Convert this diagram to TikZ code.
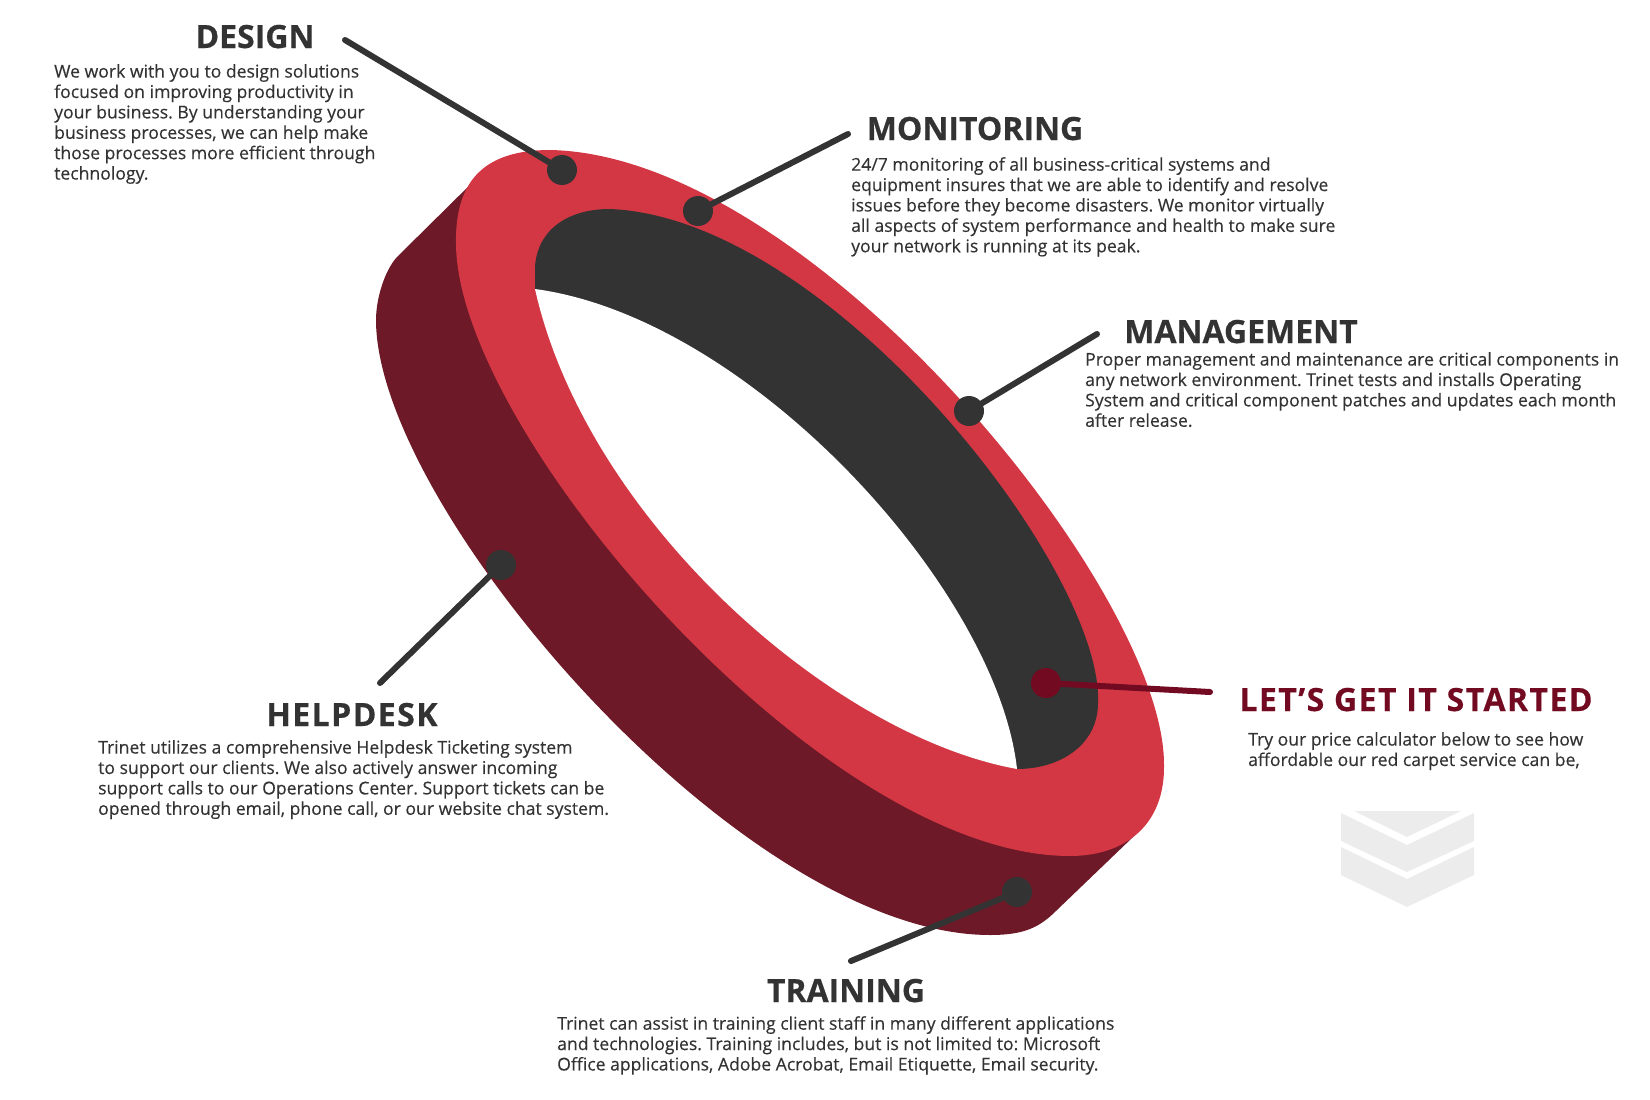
\documentclass[tikz,border=0pt]{standalone}
\usepackage{fontspec}
\setmainfont{Open Sans}[FakeBold=0.3]
\newfontfamily\headfont{Open Sans}[BoldFeatures={FakeBold=0.5}]
\newfontfamily\wideheadfont{Open Sans}[BoldFeatures={FakeBold=0.5},LetterSpace=4.5]
\frenchspacing
\definecolor{ringred}{HTML}{D43744}
\definecolor{ringdark}{HTML}{6D1927}
\definecolor{inkgrey}{HTML}{333333}
\definecolor{startred}{HTML}{720B22}
\definecolor{chevgrey}{HTML}{ECECEC}
\begin{document}
\begin{tikzpicture}[x=1pt,y=-1pt,
     head/.style = {anchor=base,inner sep=0,text=inkgrey,font=\headfont\bfseries\fontsize{32}{32}\selectfont},
     widehead/.style = {head,font=\wideheadfont\bfseries\fontsize{32}{32}\selectfont},
     body/.style = {anchor=north west,inner sep=0,align=left,text=inkgrey,font=\fontsize{17.6}{20.4}\selectfont},
     dot/.style = {circle,fill=inkgrey,minimum size=30pt,inner sep=0},
     lead/.style = {line width=6pt,line cap=round,draw=inkgrey}]
   \useasboundingbox (0,0) rectangle (1650,1100);
   \fill[ringdark] (480,175) -- (397,257) .. controls (385,270) and (376,298) .. (376,320)
       .. controls (376,508) and (742,935) .. (990,935)
       .. controls (1025,935) and (1040,927) .. (1057,910) -- (1133,837) -- cycle;
   \fill[ringred] (550,150) .. controls (810,155) and (1165,590) .. (1164,765)
       .. controls (1165,825) and (1125,856) .. (1070,856)
       .. controls (822,856) and (456,431) .. (456,243)
       .. controls (455,180) and (485,150) .. (550,150) -- cycle;
   \fill[inkgrey] (535,289) -- (535,267) .. controls (537,232) and (565,209) .. (610,209)
       .. controls (830,218) and (1104,570) .. (1098,703)
       .. controls (1098,745) and (1060,769) .. (1017,769) -- cycle;
   \fill[white] (535,289) .. controls (750,318) and (997,589) .. (1017,769)
       .. controls (830,735) and (586,517) .. (535,289) -- cycle;

   \fill[chevgrey] (1354,811) -- (1461,811) -- (1407,837) -- cycle;
   \fill[chevgrey] (1341,813) -- (1407,845) -- (1474,813) -- (1474,841) -- (1407,872) -- (1341,841) -- cycle;
   \fill[chevgrey] (1341,847) -- (1407,879) -- (1474,847) -- (1474,875) -- (1407,907) -- (1341,875) -- cycle;

   \node[dot] (designdot) at (562,170) {};
   \node[dot] (monitordot) at (698,211) {};
   \node[dot] (managedot) at (969,411) {};
   \node[dot] (helpdot) at (501,565) {};
   \node[dot] (traindot) at (1017,892) {};
   \node[dot,fill=startred] (startdot) at (1046,683) {};
   \coordinate (designend) at (345,40);
   \coordinate (monitorend) at (848,134);
   \coordinate (manageend) at (1097,334);
   \coordinate (helpend) at (380,683);
   \coordinate (trainend) at (851,961);
   \coordinate (startend) at (1210,692);
   \draw[lead] (designdot) -- (designend);
   \draw[lead] (monitordot) -- (monitorend);
   \draw[lead] (managedot) -- (manageend);
   \draw[lead] (helpdot) -- (helpend);
   \draw[lead] (traindot) -- (trainend);
   \draw[lead,draw=startred] (startdot) -- (startend);

   \node[head] (design) at (255,48) {DESIGN};
   \node[head] (monitoring) at (975,140) {MONITORING};
   \node[head] (management) at (1241,343) {MANAGEMENT};
   \node[widehead] (helpdesk) at (352,726) {HELPDESK};
   \node[widehead,text=startred] (started) at (1416,711) {LET’S GET IT STARTED};
   \node[head] (training) at (846,1002) {TRAINING};

   \node[body] (designtext) at (54,64) {We work with you to design solutions\\
     focused on improving productivity in\\your business. By understanding your\\
     business processes, we can help make\\those processes more efficient through\\technology.};
   \node[body] (monitoringtext) at (851,157) {24/7 monitoring of all business-critical systems and\\
     equipment insures that we are able to identify and resolve\\
     issues before they become disasters. We monitor virtually\\
     all aspects of system performance and health to make sure\\
     your network is running at its peak.};
   \node[body] (managementtext) at (1085,352) {Proper management and maintenance are critical components in\\
     any network environment. Trinet tests and installs Operating\\
     System and critical component patches and updates each month\\after release.};
   \node[body] (helpdesktext) at (98,740) {Trinet utilizes a comprehensive Helpdesk Ticketing system\\
     to support our clients. We also actively answer incoming\\
     support calls to our Operations Center. Support tickets can be\\
     opened through email, phone call, or our website chat system.};
   \node[body] (startedtext) at (1248,732) {Try our price calculator below to see how\\
     affordable our red carpet service can be,};
   \node[body] (trainingtext) at (557,1016) {Trinet can assist in training client staff in many different applications\\
     and technologies. Training includes, but is not limited to: Microsoft\\
     Office applications, Adobe Acrobat, Email Etiquette, Email security.};
\end{tikzpicture}
\end{document}
